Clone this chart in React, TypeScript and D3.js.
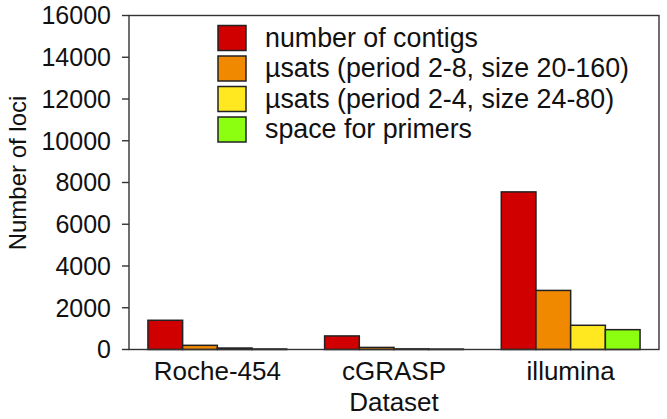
import React from "react";
import * as d3 from "d3";

const categories = ["Roche-454", "cGRASP", "illumina"];
const seriesNames = [
  "number of contigs",
  "µsats (period 2-8, size 20-160)",
  "µsats (period 2-4, size 24-80)",
  "space for primers",
];
const seriesColors = ["#d00000", "#f08800", "#ffe820", "#8cff10"];
const contigs = [1400, 650, 7550];
const usats28 = [200, 100, 2830];
const usats24 = [70, 30, 1160];
const primers = [25, 20, 950];
const yTicks = [0, 2000, 4000, 6000, 8000, 10000, 12000, 14000, 16000];

const W = 667;
const H = 419;
const left = 129;
const right = 659;
const top = 15.5;
const bottom = 349.5;
const font = "'Liberation Sans', Arial, sans-serif";

export default function App() {
  const values = [contigs, usats28, usats24, primers];
  const x0 = d3.scaleBand<string>().domain(categories).range([left, right]).padding(0);
  const x1 = d3
    .scaleBand<number>()
    .domain(seriesNames.map((_, i) => i))
    .range([0, x0.bandwidth()])
    .paddingInner(0)
    .paddingOuter(0.546);
  const y = d3.scaleLinear().domain([0, 16000]).range([bottom, top]);
  const stroke = "#222";

  return (
    <svg
      width={W}
      height={H}
      style={{ position: "absolute", left: 0, top: 0, background: "#fff" }}
      fontFamily={font}
    >
      {/* bars */}
      {categories.map((c, ci) => (
        <g key={c}>
          {values.map((vals, si) => (
            <rect
              key={si}
              x={(x0(c) as number) + (x1(si) as number)}
              y={y(vals[ci])}
              width={x1.bandwidth()}
              height={bottom - y(vals[ci])}
              fill={seriesColors[si]}
              stroke={stroke}
              strokeWidth={1.5}
            />
          ))}
        </g>
      ))}
      {/* frame */}
      <rect
        x={left}
        y={top}
        width={right - left}
        height={bottom - top}
        fill="none"
        stroke="#333"
        strokeWidth={1.4}
      />
      {/* y ticks */}
      {yTicks.map((t) => (
        <g key={t}>
          <line x1={left - 7} x2={left} y1={y(t)} y2={y(t)} stroke="#333" strokeWidth={1.4} />
          <text
            x={111}
            y={y(t)}
            dy="0.35em"
            textAnchor="end"
            fontSize={25}
            fill="#111"
          >
            {t}
          </text>
        </g>
      ))}
      {/* x labels */}
      {categories.map((c) => (
        <text
          key={c}
          x={(x0(c) as number) + x0.bandwidth() / 2}
          y={380}
          textAnchor="middle"
          fontSize={26}
          fill="#111"
        >
          {c}
        </text>
      ))}
      <text x={(left + right) / 2} y={411} textAnchor="middle" fontSize={26} fill="#111">
        Dataset
      </text>
      <text
        transform={`translate(26,173) rotate(-90)`}
        textAnchor="middle"
        fontSize={24}
        fill="#111"
      >
        Number of loci
      </text>
      {/* legend */}
      {seriesNames.map((s, i) => {
        const cy = 38 + i * 30.5;
        return (
          <g key={s}>
            <rect
              x={218}
              y={cy - 12.5}
              width={28}
              height={25}
              fill={seriesColors[i]}
              stroke={stroke}
              strokeWidth={1.5}
            />
            <text x={265} y={cy + 8.5} fontSize={26.8} fill="#111">
              {s}
            </text>
          </g>
        );
      })}
    </svg>
  );
}
